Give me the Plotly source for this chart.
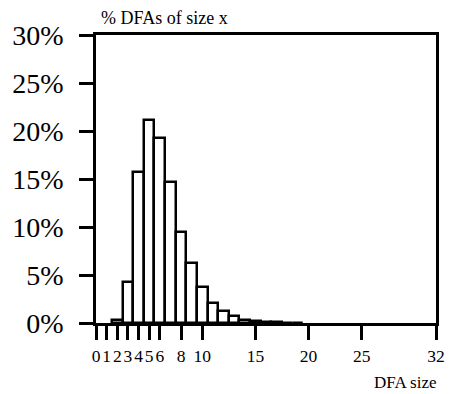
import plotly.graph_objects as go

sizes = [2, 3, 4, 5, 6, 7, 8, 9, 10, 11, 12, 13, 14, 15, 16, 17, 18, 19]
percents = [0.3, 4.3, 15.7, 21.1, 19.3, 14.7, 9.5, 6.2, 3.8, 2.1, 1.2, 0.75, 0.35, 0.18, 0.1, 0.07, 0.04, 0.02]

x_ticks = [0, 1, 2, 3, 4, 5, 6, 8, 10, 15, 20, 25, 32]
y_ticks = [0, 5, 10, 15, 20, 25, 30]
y_tick_labels = [f"{v}%" for v in y_ticks]

FONT = "Liberation Serif"

fig = go.Figure()
fig.add_trace(go.Bar(
    x=sizes, y=percents, width=1,
    marker=dict(color="white", line=dict(color="black", width=2.5)),
    showlegend=False,
))

fig.update_layout(
    width=457, height=394,
    margin=dict(l=93, r=14, t=35, b=71),
    paper_bgcolor="white", plot_bgcolor="white",
    bargap=0,
    font=dict(family=FONT, color="black"),
    xaxis=dict(
        range=[0, 32], tickvals=x_ticks, ticktext=[str(v) for v in x_ticks],
        showgrid=False, zeroline=False,
        showline=True, linecolor="black", linewidth=2.5, mirror=True,
        ticks="outside", ticklen=14, tickwidth=2.5, tickcolor="black",
        tickfont=dict(family=FONT, size=17.5, color="black"),
        tickangle=0,
        ticklabelstandoff=1,
    ),
    yaxis=dict(
        range=[0, 30], tickvals=y_ticks, ticktext=y_tick_labels,
        showgrid=False, zeroline=False,
        showline=True, linecolor="black", linewidth=2.5, mirror=True,
        ticks="outside", ticklen=14, tickwidth=2.5, tickcolor="black",
        tickfont=dict(family=FONT, size=28, color="black"),
        ticklabelstandoff=10,
    ),
    annotations=[
        dict(text="% DFAs of size x", xref="paper", yref="paper",
             x=0.01, y=1.059, xanchor="left", yanchor="middle", showarrow=False,
             font=dict(family=FONT, size=18, color="black")),
        dict(text="DFA size", xref="paper", yref="paper",
             x=1.01, y=-0.208, xanchor="right", yanchor="middle", showarrow=False,
             font=dict(family=FONT, size=17, color="black")),
    ],
)

fig.write_html("out.html")
